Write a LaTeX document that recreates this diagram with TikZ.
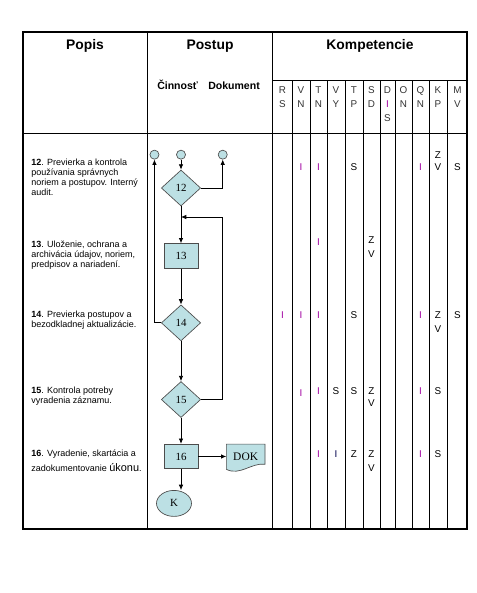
\documentclass[tikz,border=0pt]{standalone}
\usepackage{fontspec}
\setmainfont{Liberation Sans}
\newfontfamily\flowfont{Liberation Serif}
\usetikzlibrary{positioning, shapes.geometric, arrows.meta, calc, backgrounds}
\definecolor{flowfill}{HTML}{BCE0E4}
\definecolor{kpurple}{HTML}{A000A0}

\begin{document}
\begin{tikzpicture}[x=0.75pt, y=-0.75pt,
  every node/.style={inner sep=0pt},
  rule/.style={line width=0.75pt},
  outer/.style={line width=1.6pt},
  head/.style={font=\bfseries\fontsize{10.4}{12}\selectfont},
  subhead/.style={font=\bfseries\fontsize{7.9}{9}\selectfont},
  letter/.style={font=\fontsize{7.4}{10.4}\selectfont, align=center, text=black!80},
  popis/.style={anchor=north west, align=left, font=\fontsize{6.75}{7.35}\selectfont},
  kI/.style={font=\fontsize{7.4}{8}\selectfont, text=kpurple},
  kL/.style={font=\fontsize{7.4}{8}\selectfont},
  flow/.style={draw=black!70, fill=flowfill, line width=0.5pt, font=\flowfont\fontsize{8.2}{9}\selectfont},
  dec/.style={flow, diamond, minimum width=29.5pt, minimum height=27pt},
  act/.style={flow, rectangle, minimum width=25.5pt, minimum height=18.4pt},
  conn/.style={flow, circle, minimum size=6.8pt},
  arr/.style={-{Latex[length=4pt,width=3.4pt]}, line width=0.6pt}
]
\useasboundingbox (0,0) rectangle (477,593);
% table
\draw[outer] (23,32) rectangle (467,529);
\draw[rule] (147,32) -- (147,529) (272,32) -- (272,529) (23,133) -- (467,133) (272,80) -- (467,80);
\foreach \x in {292,310,327,345,363,380,395,412,429,447}
  \draw[rule] (\x,80) -- (\x,529);
%---------------------------
\node[head, anchor=base] (hpopis) at (85,49.5) {Popis};
\node[head, anchor=base] (hpostup) at (210,49.5) {Postup};
\node[head, anchor=base] (hkomp) at (370,49.5) {Kompetencie};
\node[subhead, anchor=base west] (hcin) at (157,89) {Činnosť};
\node[subhead, anchor=base west] (hdok) at (208,89) {Dokument};
\foreach \x/\t in {282.5/R\\S, 301/V\\N, 318.5/T\\N, 336/V\\Y, 354/T\\P, 371.5/S\\D,
  387.5/D\\\textcolor{kpurple}{I}\\S, 403.5/O\\N, 420.5/Q\\N, 438/K\\P, 457.5/M\\V}
  \node[letter, anchor=north] at (\x,86.5) {\t};
%---------------------------
\node[popis] (p12) at (31,159) {\textbf{12}. Previerka a kontrola\\používania správnych\\noriem a postupov. Interný\\audit.};
\node[popis] (p13) at (31,241) {\textbf{13}. Uloženie, ochrana a\\archivácia údajov, noriem,\\predpisov a nariadení.};
\node[popis] (p14) at (31,311) {\textbf{14}. Previerka postupov a\\bezodkladnej aktualizácie.};
\node[popis] (p15) at (31,387) {\textbf{15}. Kontrola potreby\\vyradenia záznamu.};
\node[popis] (p16) at (31,450) {\textbf{16}. Vyradenie, skartácia a\\[2.2pt]zadokumentovanie {\fontsize{8.2}{9}\selectfont úkonu}.};
%---------------------------
\foreach \x/\y in {301/167, 318.5/167, 420.5/167, 318.5/242, 282.5/315, 301/315, 318.5/315, 420.5/315,
  301/393, 318.5/391, 420.5/391, 318.5/454, 420.5/454}
  \node[kI] at (\x,\y) {I};
\node[kL, text=black!70!blue] at (336,454) {I};
\foreach \x/\y/\t in {354/167/S, 438/155/Z, 438/167/V, 457.5/167/S,
  371.5/240/Z, 371.5/254/V,
  354/315/S, 438/315/Z, 438/329/V, 457.5/315/S,
  336/391/S, 354/391/S, 371.5/391/Z, 371.5/403/V, 438/391/S,
  354/454/Z, 371.5/454/Z, 371.5/468/V, 438/454/S}
  \node[kL] at (\x,\y) {\t};
%---------------------------
\node[dec] (12) at (181,188) {12};
\node[conn, above=7.6pt of 12] (c2) {};
\node[conn, left=12.6pt of c2] (c1) {};
\node[conn, right=24pt of c2] (c3) {};
\node[act, below=27.75pt of 12] (13) {13};
\node[dec, below=27pt of 13] (14) {14};
\node[dec, below=30pt of 14] (15) {15};
\node[act, below=19.5pt of 15] (16) {16};
\node[flow, ellipse, minimum width=26.25pt, minimum height=19.5pt, below=15.75pt of 16, xshift=-5.25pt] (K) {K};
\node[flow, draw=none, fill=none, rectangle, minimum width=28.5pt, minimum height=18pt, right=21pt of 16, font=\flowfont\fontsize{8.6}{9}\selectfont] (DOK) {DOK};
\begin{scope}[on background layer]
  \path[flow] (DOK.north west) -- (DOK.north east) -- ($(DOK.south east)+(0,-4.5)$)
    .. controls ($(DOK.south)+(6,-6.5)$) and ($(DOK.south)+(-6,7.5)$) .. ($(DOK.south west)+(0,0.5)$) -- cycle;
\end{scope}
\coordinate (ret) at (222,217);
%--------------------------
\draw[arr] (c2) -- (12);
\draw[arr] (12) -- (13);
\draw[arr] (13) -- (14);
\draw[arr] (14) -- (15);
\draw[arr] (15) -- (16);
\draw[arr] (16) -- (DOK);
\draw[arr] (16.south) -- (16.south |- K.north);
\draw[arr] (12.east) -| (c3.south);
\draw[arr] (14.west) -| (c1.south);
\draw[arr] (15.east) -| (ret) -- (ret -| 12.south);
\end{tikzpicture}
\end{document}
